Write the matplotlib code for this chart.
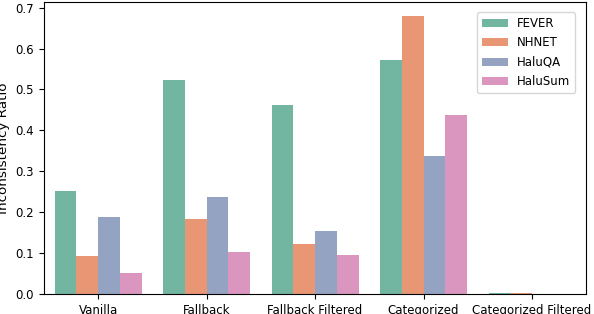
import matplotlib
matplotlib.use('Agg')
from matplotlib import pyplot as plt
import seaborn as sns
import pandas as pd

methods = ['Vanilla', 'Fallback', 'Fallback Filtered', 'Categorized', 'Categorized Filtered']
datasets = ['FEVER', 'NHNET', 'HaluQA', 'HaluSum']

fever = [0.251, 0.522, 0.463, 0.571, 0.002]
nhnet = [0.093, 0.183, 0.122, 0.680, 0.002]
haluqa = [0.188, 0.237, 0.154, 0.337, 0.0]
halusum = [0.051, 0.102, 0.095, 0.437, 0.0]

rows = []
for name, vals in zip(datasets, [fever, nhnet, haluqa, halusum]):
    for m, v in zip(methods, vals):
        rows.append({'Method': m, 'Dataset': name, 'Ratio': v})
df = pd.DataFrame(rows)

fig = plt.figure(figsize=(5.94, 3.14), dpi=100)
ax = fig.add_axes([0.074, 0.064, 0.913, 0.93])
sns.barplot(data=df, x='Method', y='Ratio', hue='Dataset', palette='Set2',
            order=methods, hue_order=datasets, ax=ax, errorbar=None)
ax.set_xlabel('')
ax.set_ylabel('Inconsistency Ratio', fontsize=9.7)
ax.tick_params(labelsize=8.5)
ax.legend(loc='upper right', fontsize=8.5, bbox_to_anchor=(0.99, 0.985),
          handlelength=2.2, labelspacing=0.55)

fig.savefig('out.png', dpi=100)
